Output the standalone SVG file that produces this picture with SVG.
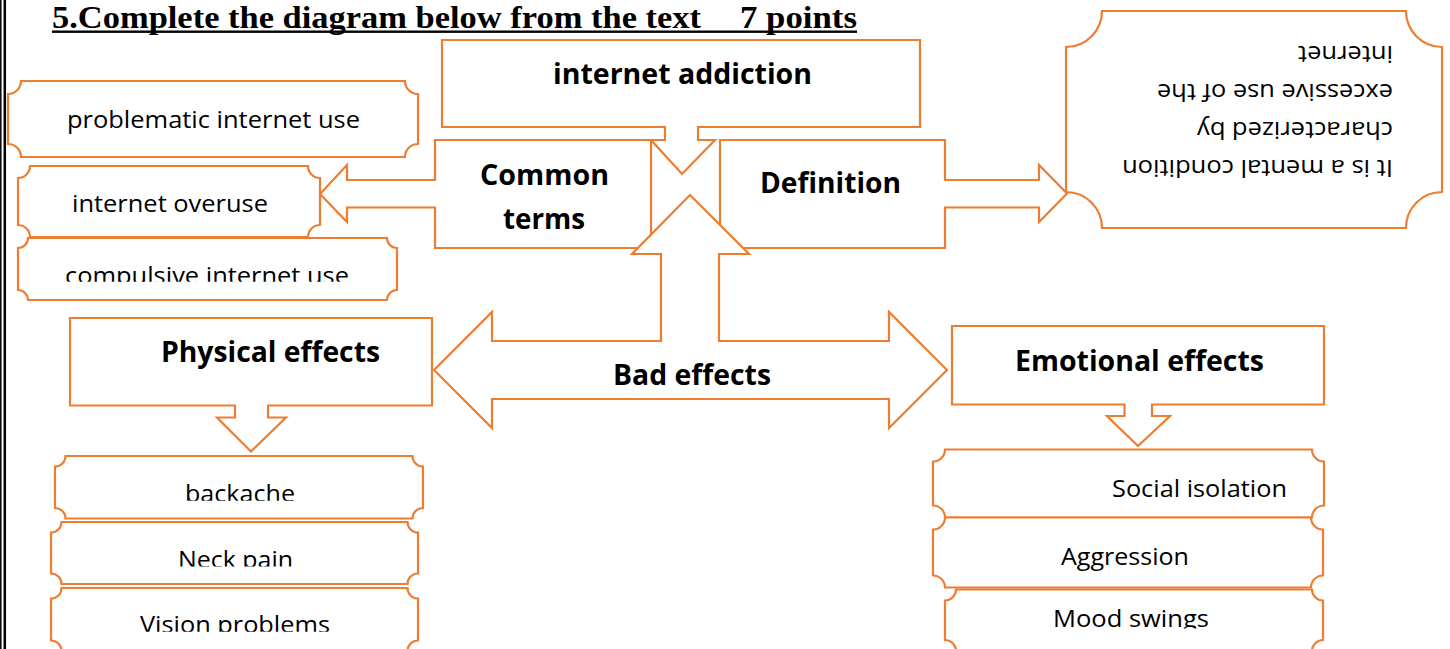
<svg xmlns="http://www.w3.org/2000/svg" width="1450" height="649" viewBox="0 0 1450 649">
<style>
.s{fill:#fff;stroke:#ED7D31;stroke-width:2.2;stroke-linejoin:miter}
.b{font-family:"Open Sans","Noto Sans",sans-serif;font-weight:bold;font-size:28px;fill:#000}
.r{font-family:"Open Sans","Noto Sans",sans-serif;font-size:24px;fill:#000}
.u{font-family:"Open Sans","Noto Sans",sans-serif;font-size:24px;fill:#000}
.t{font-family:"Liberation Serif","Times New Roman",serif;font-weight:bold;font-size:31px;fill:#000}
</style>
<defs>
<clipPath id="c1"><rect x="0" y="230" width="450" height="51.7"/></clipPath>
<clipPath id="c2"><rect x="0" y="460" width="450" height="40.7"/></clipPath>
<clipPath id="c3"><rect x="0" y="525" width="450" height="41.5"/></clipPath>
<clipPath id="c4"><rect x="0" y="592" width="450" height="39.7"/></clipPath>
<clipPath id="c5"><rect x="930" y="592" width="420" height="36.5"/></clipPath>
</defs>
<rect width="1450" height="649" fill="#fff"/>
<g id="border">
<line x1="0.8" y1="0" x2="0.8" y2="649" stroke="#000" stroke-width="1.5"/>
<line x1="4.8" y1="0" x2="4.8" y2="649" stroke="#000" stroke-width="2.5"/>
</g>
<g id="title">
<text class="t" x="52" y="28" textLength="649" lengthAdjust="spacingAndGlyphs">5.Complete the diagram below from the text</text>
<text class="t" x="740" y="28" textLength="117" lengthAdjust="spacingAndGlyphs">7 points</text>
<rect x="52" y="30.5" width="805" height="2.4" fill="#000"/>
</g>
<g id="problematic">
<path class="s" d="M21,81 H405 A13 13 0 0 0 418,94 V144 A13 13 0 0 0 405,157 H21 A13 13 0 0 0 8,144 V94 A13 13 0 0 0 21,81 Z"/>
<text class="r" x="67" y="128" textLength="293" lengthAdjust="spacingAndGlyphs">problematic internet use</text>
</g>
<g id="compulsive">
<path class="s" d="M28,238 H387 A10 10 0 0 0 397,248 V290 A10 10 0 0 0 387,300 H28 A10 10 0 0 0 18,290 V248 A10 10 0 0 0 28,238 Z"/>
<text class="r" x="65" y="284" textLength="284" lengthAdjust="spacingAndGlyphs" clip-path="url(#c1)">compulsive internet use</text>
</g>
<g id="overuse">
<path class="s" d="M30,166 H308 A12 12 0 0 0 320,178 V225 A12 12 0 0 0 308,237 H30 A12 12 0 0 0 18,225 V178 A12 12 0 0 0 30,166 Z"/>
<text class="r" x="72" y="212" textLength="196" lengthAdjust="spacingAndGlyphs">internet overuse</text>
</g>
<g id="internet-addiction">
<path class="s" d="M442,40 H920 V127 H698 V140 H715 L682,174 L651,140 H665 V127 H442 Z"/>
<text class="b" x="553" y="84" textLength="259" lengthAdjust="spacingAndGlyphs">internet addiction</text>
</g>
<g id="common-terms">
<path class="s" d="M435,140 H651 V248 H435 V207.5 H347 V222 L320,194 L347,165 V180 H435 Z"/>
<text class="b" x="480" y="185" textLength="129" lengthAdjust="spacingAndGlyphs">Common</text>
<text class="b" x="503" y="229" textLength="82" lengthAdjust="spacingAndGlyphs">terms</text>
</g>
<g id="definition">
<path class="s" d="M720,140 H945 V180 H1039 V165 L1067,193.5 L1039,222 V207.5 H945 V248 H720 Z"/>
<text class="b" x="760" y="193" textLength="141" lengthAdjust="spacingAndGlyphs">Definition</text>
</g>
<g id="bad-effects">
<path class="s" d="M690,195 L749,254 H719 V341 H889 V312 L947,370 L889,428 V399 H492 V428 L434,370 L492,312 V341 H661 V254 H632 Z"/>
<text class="b" x="613" y="385" textLength="158" lengthAdjust="spacingAndGlyphs">Bad effects</text>
</g>
<g id="definition-text">
<path class="s" d="M1102,11 H1406 A36 36 0 0 0 1442,47 V192 A36 36 0 0 0 1406,228 H1102 A36 36 0 0 0 1066,192 V47 A36 36 0 0 0 1102,11 Z"/>
<g transform="rotate(180 1254 119.5)">
<text class="u" x="1115" y="79" textLength="271" lengthAdjust="spacingAndGlyphs">It is a mental condition</text>
<text class="u" x="1115" y="117" textLength="196" lengthAdjust="spacingAndGlyphs">characterized by</text>
<text class="u" x="1115" y="155" textLength="236" lengthAdjust="spacingAndGlyphs">excessive use of the</text>
<text class="u" x="1115" y="193" textLength="95" lengthAdjust="spacingAndGlyphs">internet</text>
</g>
</g>
<g id="physical-effects">
<path class="s" d="M70,318 H432 V405.5 H268 V417.5 H286 L251,451.5 L217,417.5 H235 V405.5 H70 Z"/>
<text class="b" x="161" y="362" textLength="219" lengthAdjust="spacingAndGlyphs">Physical effects</text>
</g>
<g id="emotional-effects">
<path class="s" d="M952,326 H1324 V404.5 H1152 V416 H1170 L1138,446 L1107,416 H1124.5 V404.5 H952 Z"/>
<text class="b" x="1015" y="371" textLength="249" lengthAdjust="spacingAndGlyphs">Emotional effects</text>
</g>
<g id="backache">
<path class="s" d="M65.5,456 H412.5 A10.5 10.5 0 0 0 423,466.5 V508 A10.5 10.5 0 0 0 412.5,518.5 H65.5 A10.5 10.5 0 0 0 55,508 V466.5 A10.5 10.5 0 0 0 65.5,456 Z"/>
<text class="r" x="185" y="501.5" textLength="110" lengthAdjust="spacingAndGlyphs" clip-path="url(#c2)">backache</text>
</g>
<g id="neck-pain">
<path class="s" d="M61.5,522 H407.5 A10.5 10.5 0 0 0 418,532.5 V573.5 A10.5 10.5 0 0 0 407.5,584 H61.5 A10.5 10.5 0 0 0 51,573.5 V532.5 A10.5 10.5 0 0 0 61.5,522 Z"/>
<text class="r" x="178" y="568" textLength="115" lengthAdjust="spacingAndGlyphs" clip-path="url(#c3)">Neck pain</text>
</g>
<g id="vision-problems">
<path class="s" d="M61.5,588 H407.5 A10.5 10.5 0 0 0 418,598.5 V640.5 A10.5 10.5 0 0 0 407.5,651 H61.5 A10.5 10.5 0 0 0 51,640.5 V598.5 A10.5 10.5 0 0 0 61.5,588 Z"/>
<text class="r" x="140" y="633" textLength="190" lengthAdjust="spacingAndGlyphs" clip-path="url(#c4)">Vision problems</text>
</g>
<g id="social-isolation">
<path class="s" d="M945,449.5 H1312 A12 12 0 0 0 1324,461.5 V505.5 A12 12 0 0 0 1312,517.5 H945 A12 12 0 0 0 933,505.5 V461.5 A12 12 0 0 0 945,449.5 Z"/>
<text class="r" x="1112" y="497" textLength="175" lengthAdjust="spacingAndGlyphs">Social isolation</text>
</g>
<g id="aggression">
<path class="s" d="M945,517.5 H1311 A12 12 0 0 0 1323,529.5 V575.5 A12 12 0 0 0 1311,587.5 H945 A12 12 0 0 0 933,575.5 V529.5 A12 12 0 0 0 945,517.5 Z"/>
<text class="r" x="1061" y="565" textLength="128" lengthAdjust="spacingAndGlyphs">Aggression</text>
</g>
<g id="mood-swings">
<path class="s" d="M956,589.5 H1312 A11 11 0 0 0 1323,600.5 V640 A11 11 0 0 0 1312,651 H956 A11 11 0 0 0 945,640 V600.5 A11 11 0 0 0 956,589.5 Z"/>
<text class="r" x="1053" y="627" textLength="156" lengthAdjust="spacingAndGlyphs" clip-path="url(#c5)">Mood swings</text>
</g>
</svg>
